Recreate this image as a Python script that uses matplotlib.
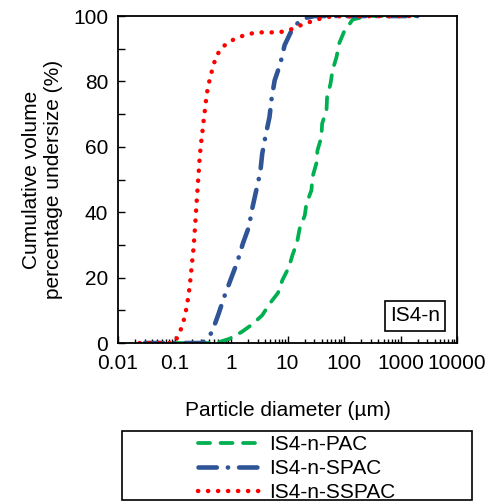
import matplotlib
matplotlib.use("Agg")
import matplotlib.pyplot as plt
from matplotlib.patches import Rectangle
from matplotlib.ticker import LogLocator, NullFormatter

plt.rcParams['font.family'] = ['Liberation Sans', 'DejaVu Sans']

# particle size (um) vs cumulative volume undersize (%)
pac_size = [0.1, 0.55, 0.94, 1.55, 2.38, 3.57, 4.82, 6.78, 8.1, 10.6, 12.2, 14.8,
            16.4, 20.2, 21.6, 26.5, 27.7, 32.5, 33.9, 39.8, 41, 49, 50.2, 57.7,
            62.7, 73.8, 82, 99.6, 142, 250, 2000]
pac_vol = [0, 0, 1.3, 3.4, 5.7, 8.5, 12.0, 15.3, 19.2, 23.2, 26.8, 30.9,
           35.0, 39.0, 42.6, 46.7, 50.8, 55.0, 58.9, 63.0, 67.1, 71.2, 75.2, 79.3,
           83.4, 87.5, 91.6, 95.1, 98.9, 100, 100]

spac_size = [0.03, 0.294, 0.361, 0.462, 0.599, 0.765, 1.0, 1.30, 1.62, 2.07, 2.38,
             2.80, 3.30, 3.57, 4.1, 4.8, 5.22, 5.92, 7.46, 8.89, 12.2, 16.5, 22.2,
             30, 2000]
spac_vol = [0, 0, 0.8, 3.4, 8.8, 14.3, 19.7, 24.9, 30.4, 35.5, 41.2,
            46.7, 52.3, 57.9, 63.5, 69.1, 74.6, 80.3, 85.4, 91.1, 96.1, 98.5, 99.5,
            100, 100]

sspac_size = [0.024, 0.1, 0.116, 0.135, 0.151, 0.164, 0.175, 0.185, 0.193, 0.201,
              0.209, 0.218, 0.224, 0.231, 0.237, 0.243, 0.250, 0.257, 0.264, 0.272,
              0.279, 0.290, 0.303, 0.320, 0.333, 0.352, 0.366, 0.393, 0.432, 0.481,
              0.544, 0.684, 0.94, 1.36, 2.02, 3.04, 4.63, 6.98, 10.5, 15.0, 22.2,
              33.0, 49.1, 73.8, 2000]
sspac_vol = [0, 0, 2.3, 4.9, 7.9, 11.0, 14.0, 17.1, 20.1, 23.2,
             26.2, 29.3, 32.3, 35.4, 38.5, 41.5, 44.6, 47.6, 50.7, 53.7,
             56.8, 59.8, 62.9, 66.2, 69.2, 72.3, 75.3, 78.4, 81.5, 84.5,
             87.6, 90.3, 92.2, 93.5, 94.5, 95.0, 95.0, 95.0, 95.6, 96.8, 97.9,
             98.9, 99.7, 99.9, 100]

labels = ["IS4-n-PAC", "IS4-n-SPAC", "IS4-n-SSPAC"]
xticks = [0.01, 0.1, 1, 10, 100, 1000, 10000]
xtick_labels = ["0.01", "0.1", "1", "10", "100", "1000", "10000"]
yticks = [0, 20, 40, 60, 80, 100]

fs = 15

fig = plt.figure(figsize=(4.88, 5.04), dpi=100)
ax = fig.add_axes([0.2418, 0.3194, 0.6947, 0.6488])

ax.plot(pac_size, pac_vol, color='#00B050', lw=2.7,
        linestyle=(0, (3.2, 2.8)), dash_capstyle='round', label=labels[0])
ax.plot(spac_size, spac_vol, color='#2F5597', lw=3.3,
        linestyle=(0, (4.0, 2.4, 0.05, 2.4)), dash_capstyle='round', label=labels[1])
ax.plot(sspac_size, sspac_vol, color='#FF0000', lw=3.2,
        linestyle=(0, (0.05, 2.2)), dash_capstyle='round', label=labels[2])

ax.set_xscale('log')
ax.set_xlim(0.01, 10000)
ax.set_ylim(0, 100)
ax.set_xticks(xticks)
ax.set_xticklabels(xtick_labels)
ax.xaxis.set_minor_locator(LogLocator(base=10, subs=range(2, 10), numticks=20))
ax.xaxis.set_minor_formatter(NullFormatter())
ax.set_yticks(yticks)
ax.set_yticks(range(10, 100, 20), minor=True)

ax.tick_params(which='both', direction='in', labelsize=fs, color='black')
ax.tick_params(axis='x', which='major', length=5, width=1, pad=8)
ax.tick_params(axis='x', which='minor', length=3, width=1)
ax.tick_params(axis='y', which='major', length=5, width=1, pad=7)
ax.tick_params(axis='y', which='minor', length=5, width=1)
for s in ax.spines.values():
    s.set_linewidth(1.3)

ax.set_xlabel("Particle diameter (µm)", fontsize=fs, labelpad=20)
ax.set_ylabel("Cumulative volume\npercentage undersize (%)", fontsize=fs, labelpad=7)

ax.text(0.876, 0.083, "IS4-n", transform=ax.transAxes, fontsize=fs,
        ha='center', va='center',
        bbox=dict(boxstyle='square,pad=0.25', fc='white', ec='black', lw=1.2))

# legend box below the plot
fig.patches.append(Rectangle((0.25, 0.008), 0.717, 0.137, transform=fig.transFigure,
                             fill=False, ec='black', lw=1.2))
fig.legend(loc='center', bbox_to_anchor=(0.6085, 0.0705), frameon=False,
           fontsize=fs, handlelength=3.0, handletextpad=0.4, labelspacing=0.24,
           borderpad=0)

fig.savefig("out.png", dpi=100)
